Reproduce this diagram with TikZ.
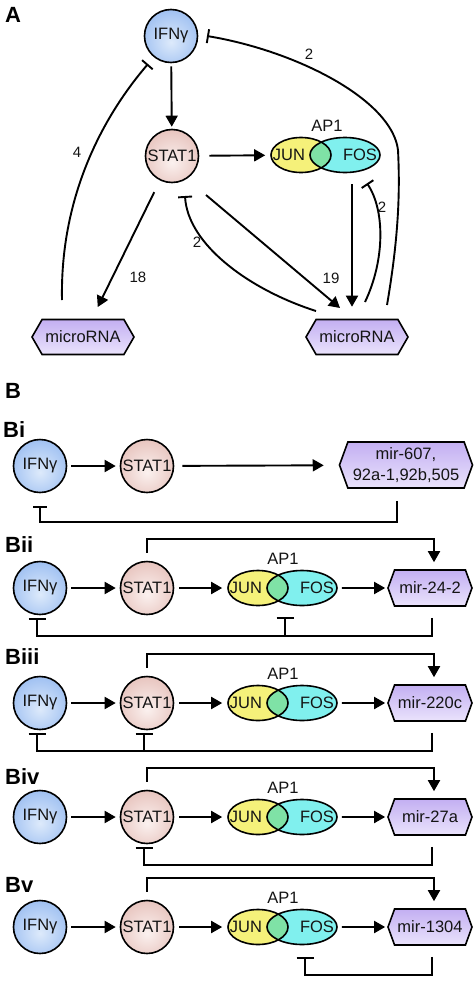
\documentclass[tikz,border=0pt]{standalone}
\usepackage{fontspec}
\setmainfont{Liberation Sans}
\usetikzlibrary{arrows.meta,shapes.geometric,shapes.symbols,calc}
\definecolor{ifnin}{HTML}{DDEAFB}
\definecolor{ifnout}{HTML}{6E9FEA}
\definecolor{statin}{HTML}{FBF1EF}
\definecolor{statout}{HTML}{D8A198}
\definecolor{junc}{HTML}{F5F17A}
\definecolor{fosc}{HTML}{80F0EE}
\definecolor{ovc}{HTML}{7FE2A6}
\definecolor{mirtop}{HTML}{C3AFF2}
\definecolor{mirbot}{HTML}{EAE3FC}
\definecolor{inktext}{HTML}{141414}
\pgfdeclareradialshading{ifnshade}{\pgfpoint{0bp}{-6bp}}{color(0bp)=(ifnin); color(52bp)=(ifnout); color(75bp)=(ifnout)}
\pgfdeclareradialshading{statshade}{\pgfpoint{0bp}{-6bp}}{color(0bp)=(statin); color(52bp)=(statout); color(75bp)=(statout)}
\newcommand\nodefont{\fontsize{16.5}{21}\selectfont}
\newcommand\numfont{\fontsize{15}{18}\selectfont}
\newcommand\headfont{\fontsize{22}{26}\selectfont\bfseries}
\tikzset{
  ln/.style={line width=1.9pt, line cap=butt},
  act/.style={ln, -{Triangle[length=11pt,width=12pt]}},
  inh/.style={ln, -{Bar[width=14pt,line width=1.9pt]}},
  inhb/.style={ln, -{Bar[width=17pt,line width=1.9pt]}},
  ifn/.style={circle, draw, line width=1.6pt, minimum size=53pt, inner sep=0pt, shade, shading=ifnshade, font=\nodefont, text=inktext},
  stat/.style={circle, draw, line width=1.6pt, minimum size=53pt, inner sep=0pt, shade, shading=statshade, font=\nodefont, text=inktext},
  mirbase/.style={shape=signal, signal to=east and west, draw, line width=1.6pt, inner sep=1pt, top color=mirtop, bottom color=mirbot, font=\nodefont, text=inktext},
  mirA/.style={mirbase, signal pointer angle=120, minimum width=102pt, minimum height=35pt},
  mirB/.style={mirbase, signal pointer angle=140, minimum width=84pt, minimum height=36pt},
  mirBone/.style={mirbase, signal pointer angle=140, minimum width=133pt, minimum height=46pt, align=center},
  txt/.style={font=\nodefont, inner sep=0pt, text=inktext},
  num/.style={font=\numfont, inner sep=0pt, text=inktext},
  head/.style={font=\headfont, inner sep=0pt},
  pics/apone/.style={code={
    \fill[junc] (-24,0) ellipse [x radius=30pt, y radius=17.5pt];
    \fill[fosc] (20,0) ellipse [x radius=35pt, y radius=17.5pt];
    \begin{scope}
      \clip (-24,0) ellipse [x radius=30pt, y radius=17.5pt];
      \fill[ovc] (20,0) ellipse [x radius=35pt, y radius=17.5pt];
    \end{scope}
    \node[ellipse, draw, line width=1.6pt, minimum width=60pt, minimum height=35pt, inner sep=0pt] (-jun) at (-24,0) {};
    \node[ellipse, draw, line width=1.6pt, minimum width=70pt, minimum height=35pt, inner sep=0pt] (-fos) at (20,0) {};
    \node[txt] (-jt) at (-36,0) {JUN};
    \node[txt] (-ft) at (35,0) {FOS};
  }}
}
\newcommand\mkrow[3]{%
  \node[ifn] (ifn#1) at (40,#2) {IFNγ};
  \node[stat] (stat#1) at (147,#2) {STAT1};
  \pic (ap#1) at (282,#2) {apone};
  \node[txt] (apl#1) at (283,#2-29.5) {AP1};
  \node[mirB] (mir#1) at (430,#2) {#3};
  \draw[act, shorten <=4, shorten >=4] (ifn#1) -- (stat#1);
  \draw[act, shorten <=5, shorten >=5] (stat#1) -- (ap#1-jun);
  \draw[act, shorten <=4, shorten >=2] (ap#1-fos) -- (mir#1);
  \draw[act] ($(stat#1.north)+(0,-8)$) -- ++(0,-14) -| ($(mir#1.north)+(4,-7)$);
}
\begin{document}
\begin{tikzpicture}[x=1pt, y=-1pt]
\useasboundingbox (0,0) rectangle (474,988);
\fill[white] (0,0) rectangle (474,988);

% ---------- Panel A ----------
\node[head] (labA) at (13,15) {A};
\node[ifn] (ifnA) at (171,36) {IFNγ};
\node[stat] (statA) at (172,156) {STAT1};
\pic (apA) at (325,155) {apone};
\node[txt] (aplA) at (327,126) {AP1};
\node[mirA] (mirL) at (83,337) {microRNA};
\node[mirA] (mirR) at (357,337) {microRNA};

\draw[act, shorten <=3, shorten >=2] (ifnA) -- (statA);
\draw[act, shorten <=10, shorten >=5] (statA) -- (apA-jun);
\draw[act] ($(apA-fos.south)+(7,11)$) -- ($(mirR.north)+(-5,-12)$);
\draw[act, shorten <=13, shorten >=13] (statA) -- (mirL);
\draw[act] ($(statA)+(34,39)$) -- ($(mirR)+(-17,-29)$);
\draw[inh] ($(mirR)+(-41,-26)$) .. controls +(-66,-21) and +(3,49) .. ($(statA)+(13,40)$);
\draw[inh] ($(mirR)+(8,-35)$) .. controls +(20,-42) and +(18,27) .. ($(apA-fos.south)+(22,10)$);
\draw[inh] ($(mirR)+(30,-32)$) .. controls +(12,-70) and +(2,40) .. ($(ifnA)+(227,114)$)
  .. controls +(-6,-50) and +(90,15) .. ($(ifnA)+(36,0)$);
\draw[inh] ($(mirL)+(-21,-37)$) .. controls +(-2,-100) and +(-48,56) .. ($(ifnA)+(-23,28)$);

\node[num] (n4) at (77,152) {4};
\node[num] (n2a) at (309,54) {2};
\node[num] (n18) at (138,277) {18};
\node[num] (n19) at (331,278) {19};
\node[num] (n2b) at (197,242) {2};
\node[num] (n2c) at (382,207) {2};

% ---------- Panel B ----------
\node[head] (labB) at (13,391) {B};
\node[head, anchor=west] (labBi) at (3,430) {Bi};
\node[head, anchor=west] (labBii) at (5,545) {Bii};
\node[head, anchor=west] (labBiii) at (5,657) {Biii};
\node[head, anchor=west] (labBiv) at (5,777) {Biv};
\node[head, anchor=west] (labBv) at (5,885) {Bv};

% Bi
\node[ifn] (ifn1) at (40,466) {IFNγ};
\node[stat] (stat1) at (147,466) {STAT1};
\node[mirBone] (mir1) at (406,465) {mir-607,\\92a-1,92b,505};
\draw[act, shorten <=4, shorten >=4] (ifn1) -- (stat1);
\draw[act, shorten <=8, shorten >=15] (stat1) -- (mir1);
\draw[inh] ($(mir1.south)+(-9,12)$) -- ++(0,21) -| ($(ifn1.south)+(0,13)$);

% Bii
\mkrow{2}{588}{mir-24-2}
\draw[inhb] ($(mir2.south)+(2,11)$) -- ++(0,18) -| ($(ifn2.south)+(-3,3)$);
\draw[inhb] ($(ap2-fos.south)+(-17,29)$) -- ($(ap2-fos.south)+(-17,11)$);

% Biii
\mkrow{3}{703}{mir-220c}
\draw[inhb] ($(mir3.south)+(2,11)$) -- ++(0,18) -| ($(ifn3.south)+(-3,3)$);
\draw[inhb] ($(stat3.south)+(-3,20.5)$) -- ($(stat3.south)+(-3,3)$);

% Biv
\mkrow{4}{817}{mir-27a}
\draw[inhb] ($(mir4.south)+(2,11)$) -- ++(0,18) -| ($(stat4.south)+(-3,3)$);

% Bv
\mkrow{5}{927}{mir-1304}
\draw[inhb] ($(mir5.south)+(2,11)$) -- ++(0,18) -| ($(ap5-fos.south)+(3,12)$);
\end{tikzpicture}
\end{document}
